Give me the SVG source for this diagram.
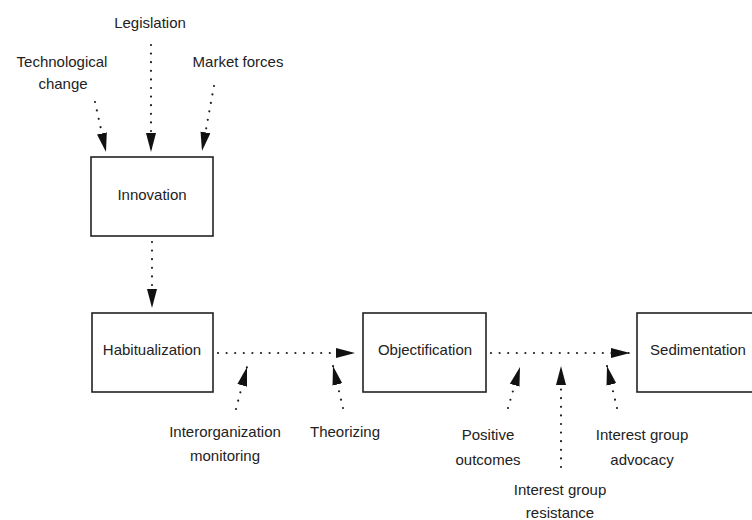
<svg xmlns="http://www.w3.org/2000/svg" width="752" height="520" viewBox="0 0 752 520">
<defs>
<marker id="ah" markerUnits="userSpaceOnUse" markerWidth="20" markerHeight="12" refX="19" refY="5.5" orient="auto"><path d="M0,0.5 L19,5.5 L0,10.5 Z" fill="#111"/></marker>
<style>
.box{fill:#fff;stroke:#222;stroke-width:1.6}
.t{font-family:"Liberation Sans",Arial,sans-serif;font-size:15px;fill:#222;text-anchor:middle}
.d{fill:none;stroke:#222;stroke-width:2.2;stroke-linecap:round;stroke-dasharray:0 8.6;marker-end:url(#ah)}
</style>
</defs>
<rect width="752" height="520" fill="#fff"/>
<g id="labels">
<text class="t" x="150" y="28">Legislation</text>
<text class="t" x="62" y="67">Technological</text>
<text class="t" x="63" y="89">change</text>
<text class="t" x="238" y="67">Market forces</text>
<text class="t" x="225" y="437">Interorganization</text>
<text class="t" x="225" y="461">monitoring</text>
<text class="t" x="345" y="437">Theorizing</text>
<text class="t" x="488" y="440">Positive</text>
<text class="t" x="488" y="465">outcomes</text>
<text class="t" x="642" y="440">Interest group</text>
<text class="t" x="642" y="465">advocacy</text>
<text class="t" x="560" y="495">Interest group</text>
<text class="t" x="560" y="518">resistance</text>
</g>
<g id="innovation"><rect class="box" x="91" y="157" width="122" height="79"/><text class="t" x="152" y="200">Innovation</text></g>
<g id="habitualization"><rect class="box" x="92" y="313" width="121" height="79"/><text class="t" x="152" y="355">Habitualization</text></g>
<g id="objectification"><rect class="box" x="363" y="313" width="123" height="79"/><text class="t" x="425" y="355">Objectification</text></g>
<g id="sedimentation"><rect class="box" x="637" y="313" width="125" height="79"/><text class="t" x="698" y="355">Sedimentation</text></g>
<g id="connectors">
<path class="d" d="M95,102 L106,152"/>
<path class="d" d="M151,45 L151,152"/>
<path class="d" d="M214,86 L202,151"/>
<path class="d" d="M152,242 L152,308"/>
<path class="d" d="M218,353 L355,353"/>
<path class="d" d="M491,353 L630,353"/>
<path class="d" d="M236,409 L247,367"/>
<path class="d" d="M343,408 L333,366"/>
<path class="d" d="M508,408 L520,367"/>
<path class="d" d="M561,467 L561,366"/>
<path class="d" d="M617,408 L607,366"/>
</g>
</svg>
